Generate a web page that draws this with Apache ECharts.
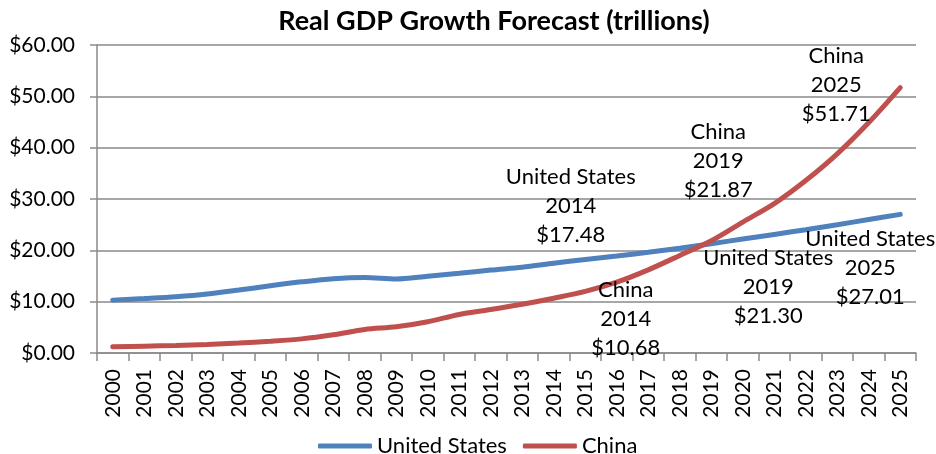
<!DOCTYPE html>
<html>
<head>
<meta charset="utf-8">
<script src="https://cdn.jsdelivr.net/npm/echarts@6/dist/echarts.min.js"></script>
<style>
  html, body { margin: 0; padding: 0; background: #fff; }
  #chart { width: 936px; height: 454px; }
</style>
</head>
<body>
<div id="chart"></div>
<script>
// Years on the category axis
const years = ['2000','2001','2002','2003','2004','2005','2006','2007','2008','2009',
  '2010','2011','2012','2013','2014','2015','2016','2017','2018','2019',
  '2020','2021','2022','2023','2024','2025'];

// GDP in trillions of dollars
const usGdp = [10.30, 10.62, 10.98, 11.51, 12.27, 13.09, 13.86, 14.48, 14.72, 14.42,
  14.96, 15.52, 16.16, 16.69, 17.48, 18.22, 18.90, 19.61, 20.42, 21.30,
  22.20, 23.10, 24.02, 25.00, 26.00, 27.01];
const chinaGdp = [1.20, 1.33, 1.46, 1.65, 1.94, 2.29, 2.75, 3.55, 4.59, 5.10,
  6.09, 7.50, 8.46, 9.50, 10.68, 12.00, 13.80, 16.20, 19.00, 21.87,
  25.50, 29.10, 33.60, 38.80, 44.90, 51.71];

// Y-axis tick values
const yTicks = [0, 10, 20, 30, 40, 50, 60];

// Annotated points: index into years -> label shift from the point
const usNotes = { 14: [17, -57], 19: [57, 43], 25: [-30, 54] };
const chinaNotes = { 14: [72, 21], 19: [7, -80], 25: [-64, -3] };

const FONT = 'Lato';
const GRID_COLOR = '#8a8a8a';

function withNotes(values, notes) {
  return values.map((v, i) => {
    if (!notes[i]) return v;
    return {
      value: v,
      label: {
        show: true,
        position: 'inside',
        align: 'center',
        verticalAlign: 'middle',
        fontFamily: FONT,
        fontSize: 22,
        lineHeight: 29,
        color: '#000',
        formatter: p => p.seriesName + '\n' + p.name + '\n$' + p.value.toFixed(2)
      }
    };
  });
}

function shiftLabels(notes) {
  return params => {
    const d = notes[params.dataIndex] || [0, 0];
    return { dx: d[0], dy: d[1], hideOverlap: false };
  };
}

const chart = echarts.init(document.getElementById('chart'), null, { renderer: 'canvas' });

chart.setOption({
  animation: false,
  backgroundColor: '#fff',
  title: {
    text: 'Real GDP Growth Forecast (trillions)',
    left: 489,
    textAlign: 'center',
    top: 3,
    textStyle: { fontFamily: FONT, fontWeight: 'bold', fontSize: 27, color: '#000' }
  },
  legend: {
    left: 313,
    top: 430,
    itemGap: 16,
    itemWidth: 54,
    itemHeight: 5,
    icon: 'roundRect',
    textStyle: { fontFamily: FONT, fontSize: 22, color: '#000' },
    data: ['United States', 'China']
  },
  grid: { left: 97, right: 20, top: 45, bottom: 101, containLabel: false },
  xAxis: {
    type: 'category',
    data: years,
    boundaryGap: true,
    axisLine: { show: true, lineStyle: { color: GRID_COLOR, width: 1.5 } },
    axisTick: { show: true, length: 8, alignWithLabel: false, interval: 0, lineStyle: { color: GRID_COLOR, width: 1.5 } },
    axisLabel: { interval: 0, rotate: 90, margin: 16, fontFamily: FONT, fontSize: 21, color: '#000' },
    splitLine: { show: false }
  },
  yAxis: {
    type: 'value',
    min: yTicks[0],
    max: yTicks[yTicks.length - 1],
    interval: yTicks[1] - yTicks[0],
    axisLine: { show: true, lineStyle: { color: GRID_COLOR, width: 1.5 } },
    axisTick: { show: true, length: 7, lineStyle: { color: GRID_COLOR, width: 1.5 } },
    axisLabel: { margin: 22, fontFamily: FONT, fontSize: 21, color: '#000',
      formatter: v => '$' + v.toFixed(2) },
    splitLine: { show: true, lineStyle: { color: GRID_COLOR, width: 1.5 } }
  },
  series: [
    {
      name: 'United States',
      type: 'line',
      data: withNotes(usGdp, usNotes),
      smooth: 0.3,
      symbol: 'circle',
      symbolSize: 1,
      showSymbol: true,
      lineStyle: { color: '#4F81BD', width: 5, cap: 'round' },
      itemStyle: { color: '#4F81BD' },
      labelLayout: shiftLabels(usNotes),
      z: 3
    },
    {
      name: 'China',
      type: 'line',
      data: withNotes(chinaGdp, chinaNotes),
      smooth: 0.3,
      symbol: 'circle',
      symbolSize: 1,
      showSymbol: true,
      lineStyle: { color: '#C0504D', width: 5, cap: 'round' },
      itemStyle: { color: '#C0504D' },
      labelLayout: shiftLabels(chinaNotes),
      z: 4
    }
  ]
});
</script>
</body>
</html>
